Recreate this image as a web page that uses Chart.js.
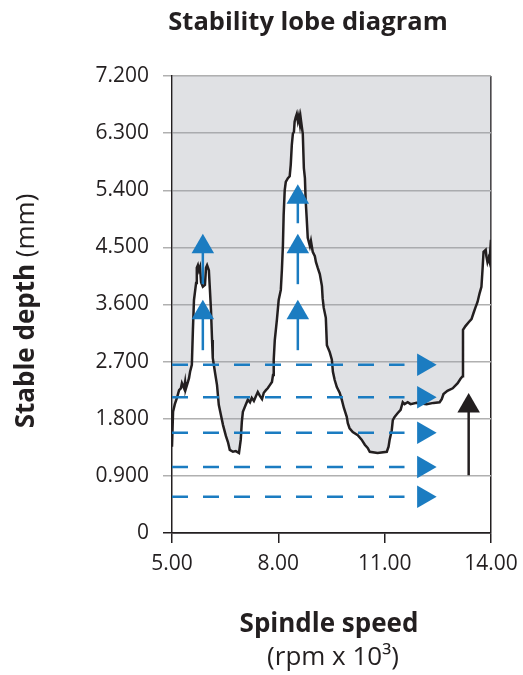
<!DOCTYPE html>
<html>
<head>
<meta charset="utf-8">
<title>Stability lobe diagram</title>
<script src="https://cdn.jsdelivr.net/npm/chart.js@4.4.1/dist/chart.umd.min.js"></script>
<style>
  html, body { margin: 0; padding: 0; background: #fff; }
</style>
</head>
<body>
<canvas id="lobeChart" width="523" height="675"></canvas>
<script>
// lobe boundary: spindle speed (rpm x 10^3) -> stable depth (mm)
var speed = [5.00, 5.03, 5.08, 5.14, 5.20, 5.25, 5.28, 5.34, 5.37, 5.39,
  5.45, 5.48, 5.51, 5.56, 5.59, 5.62, 5.68, 5.70, 5.73, 5.76,
  5.79, 5.82, 5.87, 5.93, 5.96, 5.99, 6.04, 6.07, 6.10, 6.13,
  6.15, 6.21, 6.27, 6.32, 6.38, 6.44, 6.52, 6.58, 6.63, 6.72,
  6.80, 6.89, 6.94, 6.97, 7.00, 7.08, 7.14, 7.20, 7.25, 7.31,
  7.37, 7.42, 7.48, 7.54, 7.59, 7.65, 7.70, 7.76, 7.82, 7.85,
  7.87, 7.90, 7.96, 8.01, 8.07, 8.10, 8.13, 8.15, 8.18, 8.21,
  8.27, 8.32, 8.35, 8.38, 8.41, 8.44, 8.46, 8.49, 8.52, 8.55,
  8.58, 8.61, 8.63, 8.66, 8.69, 8.72, 8.75, 8.77, 8.80, 8.83,
  8.89, 8.92, 8.97, 9.03, 9.06, 9.11, 9.17, 9.23, 9.25, 9.28,
  9.34, 9.37, 9.45, 9.51, 9.54, 9.59, 9.65, 9.73, 9.79, 9.85,
  9.93, 9.96, 10.01, 10.10, 10.24, 10.35, 10.44, 10.52, 10.58, 10.80,
  11.06, 11.11, 11.14, 11.20, 11.23, 11.28, 11.37, 11.45, 11.51, 11.56,
  11.65, 11.73, 11.90, 12.18, 12.38, 12.55, 12.61, 12.66, 12.77, 12.92,
  13.06, 13.14, 13.20, 13.21, 13.28, 13.37, 13.45, 13.51, 13.56, 13.62,
  13.68, 13.73, 13.76, 13.79, 13.85, 13.87, 13.90, 13.93, 13.96, 13.99,
  14.00];
var depth = [1.36, 1.91, 2.03, 2.13, 2.25, 2.28, 2.36, 2.28, 2.38, 2.27,
  2.38, 2.44, 2.54, 2.65, 3.20, 3.67, 3.94, 4.18, 4.22, 4.14,
  4.19, 3.95, 3.88, 3.91, 4.18, 4.22, 4.14, 3.83, 3.51, 3.04,
  2.76, 2.54, 2.33, 2.02, 1.86, 1.70, 1.53, 1.43, 1.31, 1.28,
  1.29, 1.26, 1.47, 1.75, 1.91, 2.02, 2.10, 2.06, 2.13, 2.08,
  2.16, 2.22, 2.16, 2.11, 2.21, 2.25, 2.28, 2.33, 2.38, 2.49,
  2.73, 3.04, 3.36, 3.67, 3.83, 4.14, 4.54, 5.01, 5.40, 5.53,
  5.59, 5.62, 5.80, 6.11, 6.29, 6.32, 6.48, 6.55, 6.60, 6.49,
  6.57, 6.44, 6.54, 6.41, 6.29, 5.75, 5.59, 5.25, 4.96, 4.65,
  4.52, 4.60, 4.43, 4.36, 4.27, 4.18, 4.08, 3.89, 3.70, 3.55,
  3.39, 2.96, 2.85, 2.73, 2.54, 2.41, 2.30, 2.21, 2.10, 1.97,
  1.83, 1.73, 1.65, 1.59, 1.54, 1.47, 1.39, 1.34, 1.28, 1.26,
  1.28, 1.36, 1.47, 1.62, 1.78, 1.83, 1.89, 1.94, 2.06, 2.03,
  2.06, 2.03, 2.05, 2.03, 2.05, 2.06, 2.11, 2.19, 2.24, 2.28,
  2.36, 2.43, 2.47, 3.20, 3.26, 3.32, 3.37, 3.47, 3.55, 3.64,
  3.78, 3.88, 4.14, 4.43, 4.46, 4.36, 4.27, 4.33, 4.27, 4.54,
  4.62];

var yTicks = [0, 0.9, 1.8, 2.7, 3.6, 4.5, 5.4, 6.3, 7.2];
var xTicks = [5, 8, 11, 14];

// dashed passes at constant depth
var passDepth = [2.65, 2.14, 1.58, 1.04, 0.57];
var passFrom = 5.0;
var passTo = 11.56;
var passHead = 12.10;

// blue arrows: speed, tail depth, head depth
var arrowSpeed = [5.87, 5.87, 8.55, 8.55, 8.55];
var arrowTail = [2.88, 3.92, 2.88, 3.92, 4.88];
var arrowHead = [3.47, 4.51, 3.47, 4.51, 5.29];

// black arrow
var limitSpeed = [13.37];
var limitTail = [0.91];
var limitHead = [2.00];

var ink = '#231f20';
var blue = '#1b7cc1';

Chart.defaults.font.family = '"Open Sans", sans-serif';
Chart.defaults.color = ink;

var datasets = [];

datasets.push({
  data: speed.map(function (s, i) { return { x: s, y: depth[i] }; }),
  borderColor: ink, borderWidth: 2.5, pointRadius: 0,
  fill: 'end', backgroundColor: 'rgba(160,163,170,0.32)',
  order: 5
});

passDepth.forEach(function (d) {
  datasets.push({
    data: [{ x: passFrom, y: d }, { x: passTo, y: d }],
    borderColor: blue, borderWidth: 2.5, borderDash: [16, 15],
    pointRadius: 0, fill: false, order: 3
  });
});
datasets.push({
  data: passDepth.map(function (d) { return { x: passHead, y: d }; }),
  showLine: false, pointStyle: 'triangle', rotation: 90, pointRadius: 13,
  backgroundColor: blue, borderWidth: 0, order: 1
});

arrowSpeed.forEach(function (s, i) {
  datasets.push({
    data: [{ x: s, y: arrowTail[i] }, { x: s, y: arrowHead[i] }],
    borderColor: blue, borderWidth: 2.5, pointRadius: 0, fill: false, order: 2
  });
});
datasets.push({
  data: arrowSpeed.map(function (s, i) { return { x: s, y: arrowHead[i] }; }),
  showLine: false, pointStyle: 'triangle', pointRadius: 13,
  backgroundColor: blue, borderWidth: 0, order: 1
});

limitSpeed.forEach(function (s, i) {
  datasets.push({
    data: [{ x: s, y: limitTail[i] }, { x: s, y: limitHead[i] }],
    borderColor: ink, borderWidth: 2.5, pointRadius: 0, fill: false, order: 2
  });
});
datasets.push({
  data: limitSpeed.map(function (s, i) { return { x: s, y: limitHead[i] }; }),
  showLine: false, pointStyle: 'triangle', pointRadius: 13,
  backgroundColor: ink, borderWidth: 0, order: 1
});

// titles drawn on the canvas so the weights can be mixed
var titles = {
  id: 'titles',
  afterDraw: function (chart) {
    var ctx = chart.ctx;
    var bold = 'bold 26px "Open Sans"';
    var reg = '26px "Open Sans"';
    ctx.save();
    ctx.fillStyle = ink;
    ctx.textAlign = 'center';
    ctx.textBaseline = 'alphabetic';
    ctx.font = 'bold 25.5px "Open Sans"';
    ctx.fillText('Stability lobe diagram', 308, 30);
    ctx.font = bold;
    ctx.fillText('Spindle speed', 329, 632);
    ctx.font = reg;
    ctx.fillText('(rpm x 10\u00b3)', 333, 665);

    ctx.translate(34, 311);
    ctx.rotate(-Math.PI / 2);
    ctx.font = bold;
    var w1 = ctx.measureText('Stable depth ').width;
    ctx.font = reg;
    var w2 = ctx.measureText('(mm)').width;
    var x0 = -(w1 + w2) / 2;
    ctx.textAlign = 'left';
    ctx.font = bold;
    ctx.fillText('Stable depth ', x0, 0);
    ctx.font = reg;
    ctx.fillText('(mm)', x0 + w1, 0);
    ctx.restore();
  }
};

new Chart(document.getElementById('lobeChart'), {
  type: 'line',
  data: { datasets: datasets },
  options: {
    responsive: false,
    animation: false,
    layout: { padding: { left: 0, right: 32, top: 76, bottom: 97 } },
    plugins: { legend: { display: false }, tooltip: { enabled: false } },
    scales: {
      x: {
        type: 'linear', min: 5, max: 14,
        afterBuildTicks: function (s) { s.ticks = xTicks.map(function (v) { return { value: v }; }); },
        afterFit: function (s) { s.height = 45; s.paddingLeft = 0; s.paddingRight = 0; },
        ticks: {
          padding: 8, font: { size: 21 }, color: ink, maxRotation: 0, autoSkip: false,
          callback: function (v) { return v.toFixed(2); }
        },
        grid: {
          color: function (c) { return c.tick && c.tick.value === 14 ? ink : 'rgba(0,0,0,0)'; },
          tickColor: ink, lineWidth: 1.5, tickLength: 10
        },
        border: { color: ink, width: 1.5 }
      },
      y: {
        min: 0, max: 7.2,
        afterBuildTicks: function (s) { s.ticks = yTicks.map(function (v) { return { value: v }; }); },
        afterFit: function (s) { s.width = 172; },
        ticks: {
          padding: 14, font: { size: 21 }, color: ink,
          callback: function (v) { return v === 0 ? '0' : v.toFixed(3); }
        },
        grid: {
          color: function (c) { return c.tick && c.tick.value === 0 ? ink : '#b0b0b0'; },
          lineWidth: 1.5, tickLength: 9
        },
        border: { color: ink, width: 1.5 }
      }
    }
  },
  plugins: [titles]
});
</script>
</body>
</html>
